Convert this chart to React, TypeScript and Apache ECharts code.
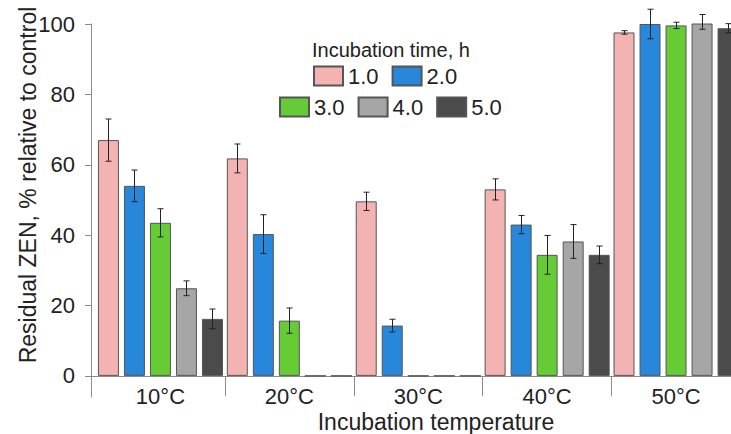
import React, { useEffect, useRef } from "react";
import * as echarts from "echarts";

const categories = ["10°C", "20°C", "30°C", "40°C", "50°C"];
const seriesNames = ["1.0", "2.0", "3.0", "4.0", "5.0"];
const h1 = [67.0, 61.8, 49.6, 53.0, 97.6];
const h2 = [54.0, 40.3, 14.3, 43.0, 100.0];
const h3 = [43.5, 15.7, 0, 34.4, 99.6];
const h4 = [24.9, 0, 0, 38.2, 100.6];
const h5 = [16.2, 0, 0, 34.4, 98.8];
const e1 = [6.0, 4.1, 2.6, 3.0, 0.5];
const e2 = [4.5, 5.5, 1.8, 2.6, 4.2];
const e3 = [4.0, 3.6, 0, 5.5, 0.9];
const e4 = [2.1, 0, 0, 4.8, 2.1];
const e5 = [2.8, 0, 0, 2.5, 1.3];
const yTicks = [0, 20, 40, 60, 80, 100];

const values = [h1, h2, h3, h4, h5];
const errors = [e1, e2, e3, e4, e5];
const colors = ["#F4B3B3", "#2787DA", "#66CC36", "#A6A6A6", "#4B4B4B"];

const FONT = "'Liberation Sans', Arial, sans-serif";
const CAT_GAP = 0.03;
const BAR_GAP = 0.24;

export default function App() {
  const ref = useRef<HTMLDivElement>(null);
  useEffect(() => {
    if (!ref.current) return;
    const chart = echarts.init(ref.current, null, { renderer: "svg" });
    const n = seriesNames.length;
    const barSeries = seriesNames.map((name, k) => ({
      name,
      type: "bar",
      data: values[k].map((v, i) => [i, v]),
      barCategoryGap: CAT_GAP * 100 + "%",
      barGap: BAR_GAP * 100 + "%",
      itemStyle: { color: colors[k], borderColor: "#555555", borderWidth: 1 },
    }));
    const errData: number[][] = [];
    values.forEach((arr, k) =>
      arr.forEach((v, i) => errData.push([i, k, v, errors[k][i]]))
    );
    const errSeries = {
      type: "custom",
      clip: false,
      z: 5,
      data: errData,
      encode: { x: 0, y: 2 },
      renderItem: (params: any, api: any) => {
        const ci = api.value(0);
        const si = api.value(1);
        const v = api.value(2);
        const e = api.value(3);
        if (!e) return null;
        const band = api.size([1, 0])[0];
        const usable = band * (1 - CAT_GAP);
        const bw = usable / (n + (n - 1) * BAR_GAP);
        const off = -usable / 2 + si * bw * (1 + BAR_GAP) + bw / 2;
        const top = api.coord([ci, v + e]);
        const bot = api.coord([ci, v - e]);
        const x = Math.round(top[0] + off) + 0.5;
        const cap = 3;
        const st = { stroke: "#222222", lineWidth: 1 };
        return {
          type: "group",
          children: [
            { type: "line", shape: { x1: x, y1: top[1], x2: x, y2: bot[1] }, style: st },
            { type: "line", shape: { x1: x - cap, y1: top[1], x2: x + cap, y2: top[1] }, style: st },
            { type: "line", shape: { x1: x - cap, y1: bot[1], x2: x + cap, y2: bot[1] }, style: st },
          ],
        };
      },
    };
    const legendBase = {
      orient: "horizontal",
      icon: "rect",
      itemWidth: 29,
      itemHeight: 19,
      itemGap: 13,
      textStyle: { fontSize: 22, color: "#222", fontFamily: FONT },
    };
    chart.setOption({
      animation: false,
      backgroundColor: "#ffffff",
      textStyle: { fontFamily: FONT },
      title: {
        text: "Incubation time, h",
        left: 312,
        top: 40,
        padding: 0,
        textStyle: { fontSize: 20, fontWeight: "normal", color: "#222", fontFamily: FONT },
      },
      legend: [
        { ...legendBase, data: seriesNames.slice(0, 2), left: 313, top: 65, padding: 0 },
        { ...legendBase, data: seriesNames.slice(2), left: 279, top: 96, padding: 0 },
      ],
      grid: { left: 91, top: 24, width: 649.5, height: 373 },
      xAxis: {
        type: "value",
        min: -0.5 - 5 / 128.9,
        max: 4.5,
        axisLine: { show: true, onZero: true, lineStyle: { color: "#8a8a8a", width: 1 } },
        axisTick: {
          show: true,
          customValues: [0.5, 1.5, 2.5, 3.5, 4.5],
          length: 20,
          lineStyle: { color: "#8a8a8a" },
        },
        axisLabel: {
          customValues: [0, 1, 2, 3, 4],
          formatter: (v: number) => categories[Math.round(v)],
          fontSize: 22,
          color: "#222",
          margin: -12,
          fontFamily: FONT,
        },
        splitLine: { show: false },
      },
      yAxis: {
        type: "value",
        min: -6,
        max: 100,
        axisLine: { show: true, onZero: false, lineStyle: { color: "#8a8a8a", width: 1 } },
        axisTick: { show: true, customValues: yTicks, length: 6, lineStyle: { color: "#8a8a8a" } },
        axisLabel: {
          customValues: yTicks,
          fontSize: 22,
          color: "#222",
          margin: 16,
          fontFamily: FONT,
        },
        splitLine: { show: false },
      },
      graphic: [
        {
          type: "text",
          x: 28,
          y: 185,
          rotation: Math.PI / 2,
          style: {
            text: "Residual ZEN, % relative to control",
            fontSize: 23,
            fontFamily: FONT,
            fill: "#222",
            textAlign: "center",
            textVerticalAlign: "middle",
          },
        },
        {
          type: "text",
          x: 436,
          y: 422,
          style: {
            text: "Incubation temperature",
            fontSize: 23,
            fontFamily: FONT,
            fill: "#222",
            textAlign: "center",
            textVerticalAlign: "middle",
          },
        },
      ],
      series: [...barSeries, errSeries],
    });
    return () => chart.dispose();
  }, []);
  return (
    <div
      style={{
        position: "fixed",
        left: 0,
        top: 0,
        width: 731,
        height: 434,
        overflow: "hidden",
        background: "#fff",
      }}
    >
      <div ref={ref} style={{ width: 760, height: 434 }} />
    </div>
  );
}
